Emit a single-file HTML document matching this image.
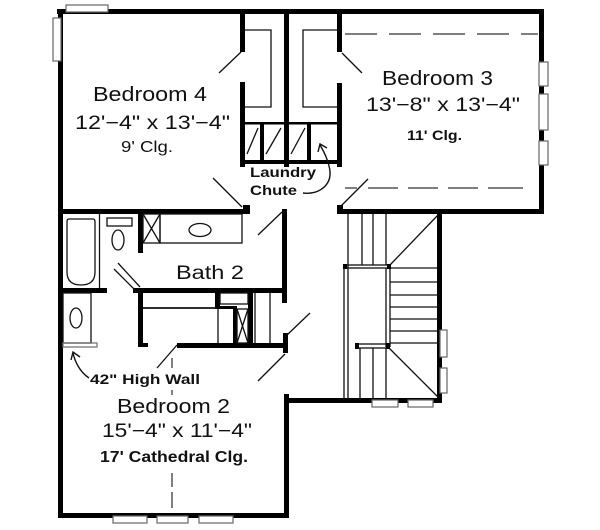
<!DOCTYPE html>
<html><head><meta charset="utf-8"><style>
html,body{margin:0;padding:0;background:#fff;}
svg{display:block;}
text{font-family:"Liberation Sans",Arial,sans-serif;fill:#111;}
</style></head><body>
<svg width="600" height="530" viewBox="0 0 600 530" xmlns="http://www.w3.org/2000/svg">
<rect width="600" height="530" fill="#fff"/>
<g fill="#000">
<!-- outer walls -->
<rect x="57" y="9" width="487" height="5"/>
<rect x="58" y="9" width="5" height="509"/>
<rect x="539" y="9" width="5" height="205"/>
<rect x="337" y="209" width="207" height="5"/>
<rect x="437" y="209" width="5" height="194"/>
<rect x="284" y="398" width="158" height="5"/>
<rect x="284" y="394" width="5" height="124"/>
<rect x="58" y="513" width="231" height="5"/>
<!-- bedroom 4 bottom -->
<rect x="58" y="209" width="192" height="5"/>
<rect x="243" y="205" width="7" height="9"/>
<!-- closet walls -->
<rect x="240" y="12" width="5" height="40"/>
<rect x="240" y="82" width="5" height="85"/>
<rect x="284" y="12" width="5" height="155"/>
<rect x="337" y="12" width="5" height="40"/>
<rect x="337" y="83" width="5" height="84"/>
<rect x="245" y="122" width="92" height="2.5"/>
<rect x="241" y="160" width="101" height="4"/>
<rect x="260" y="122" width="4" height="40"/>
<rect x="307" y="122" width="4" height="40"/>
<!-- bath walls -->
<rect x="58" y="288" width="49" height="5"/>
<rect x="138" y="214" width="5" height="39"/>
<rect x="133" y="288" width="154" height="5"/>
<rect x="282" y="209" width="5" height="94"/>
<rect x="138" y="292" width="5" height="55"/>
<rect x="138" y="343" width="10" height="4"/>
<rect x="177" y="343" width="111" height="5"/>
<rect x="283" y="333" width="5" height="20"/>
<rect x="215" y="293" width="5" height="15"/>
<rect x="215" y="306" width="22" height="3"/>
<rect x="233" y="307" width="4" height="37"/>
<rect x="248" y="293" width="5" height="51"/>
<rect x="337" y="205" width="6" height="9"/>
</g>
<g fill="none" stroke="#111" stroke-width="1.3">
<!-- closet shelves -->
<polyline points="245,30 271,30 271,107 245,107"/>
<polyline points="337,30 303,30 303,107 337,107"/>
<!-- laundry diagonals -->
<line x1="247" y1="154" x2="258" y2="128"/>
<line x1="266" y1="154" x2="281" y2="128"/>
<line x1="291" y1="154" x2="305" y2="128"/>
<!-- tub -->
<line x1="99.5" y1="214" x2="99.5" y2="288"/>
<path d="M69,219 H93 Q95,219 95,222 V272 Q95,285 81,285 Q67,285 67,272 V222 Q67,219 69,219 Z"/>
<!-- toilet -->
<rect x="107" y="218" width="25" height="8"/>
<ellipse cx="118" cy="240" rx="6" ry="10"/>
<!-- linen X -->
<rect x="143" y="214" width="17" height="29"/>
<line x1="143" y1="214" x2="160" y2="243"/><line x1="160" y1="214" x2="143" y2="243"/>
<!-- vanity -->
<rect x="160" y="214" width="82" height="29"/>
<ellipse cx="200" cy="230" rx="11" ry="6.5"/>
<!-- bath door -->
<line x1="114" y1="269" x2="137" y2="292"/>
<line x1="118" y1="263" x2="140" y2="287"/>
<!-- lower left closet -->
<rect x="63" y="293" width="28" height="50"/>
<ellipse cx="76" cy="318" rx="6" ry="10"/>
<rect x="63" y="343" width="34" height="4" stroke="#777"/>
<!-- closet below bath -->
<line x1="143" y1="308" x2="216" y2="308" stroke-width="1.8"/>
<line x1="218" y1="309" x2="218" y2="343"/>
<rect x="220" y="293" width="28" height="11"/>
<rect x="237" y="309" width="11" height="34"/>
<line x1="237" y1="309" x2="248" y2="343"/><line x1="248" y1="309" x2="237" y2="343"/>
<line x1="255" y1="293" x2="255" y2="343"/>
<line x1="270" y1="293" x2="270" y2="343"/>
<!-- door swings -->
<line x1="241" y1="52" x2="219" y2="73"/>
<line x1="342" y1="53" x2="362" y2="73"/>
<line x1="213" y1="178" x2="242" y2="207"/>
<line x1="340" y1="207" x2="368" y2="179"/>
<line x1="282" y1="212" x2="258" y2="235"/>
<line x1="287" y1="335" x2="310" y2="313"/>
<line x1="285" y1="354" x2="258" y2="381"/>
<line x1="177" y1="345" x2="157" y2="368"/>
<!-- stair -->
<line x1="348" y1="214" x2="348" y2="400"/>
<line x1="344" y1="265" x2="344" y2="400"/>
<line x1="362" y1="214" x2="362" y2="265"/>
<line x1="373" y1="214" x2="373" y2="265"/>
<line x1="386" y1="214" x2="386" y2="265"/>
<rect x="344" y="265" width="46" height="3"/>
<line x1="390" y1="268" x2="437" y2="268"/>
<line x1="390" y1="282" x2="437" y2="282"/>
<line x1="390" y1="295" x2="437" y2="295"/>
<line x1="390" y1="307" x2="437" y2="307"/>
<line x1="390" y1="319" x2="437" y2="319"/>
<line x1="390" y1="331" x2="437" y2="331"/>
<line x1="390" y1="343" x2="437" y2="343"/>
<line x1="386" y1="268" x2="386" y2="347"/>
<line x1="390" y1="268" x2="390" y2="347"/>
<line x1="390" y1="265" x2="438" y2="215"/>
<rect x="356" y="344" width="33" height="4"/>
<line x1="360" y1="348" x2="360" y2="400"/>
<line x1="373" y1="348" x2="373" y2="400"/>
<line x1="386" y1="348" x2="386" y2="400"/>
<line x1="389" y1="348" x2="438" y2="397"/>
</g>
<g fill="#000">
<rect x="343" y="264" width="4" height="5"/><rect x="387" y="264" width="4" height="5"/>
<rect x="355" y="343" width="4" height="6"/><rect x="386" y="343" width="4" height="6"/>
</g>
<!-- dashed lines -->
<g stroke="#555" stroke-width="1.5" fill="none">
<line x1="345" y1="34" x2="538" y2="34" stroke-dasharray="32,12"/>
<line x1="345" y1="188" x2="527" y2="188" stroke-dasharray="12,11,30,10,30,10,30,10,35"/>
<line x1="172" y1="358" x2="172" y2="368"/>
<line x1="172" y1="390" x2="172" y2="395"/>
<line x1="172" y1="473" x2="172" y2="487"/>
<line x1="172" y1="492" x2="172" y2="508"/>
</g>
<!-- windows -->
<g fill="#fff" stroke="#666" stroke-width="1.2">
<rect x="66" y="5" width="42" height="7"/>
<rect x="53" y="18" width="8" height="43"/>
<rect x="539" y="62" width="9" height="24"/>
<rect x="539" y="94" width="9" height="36"/>
<rect x="539" y="141" width="9" height="24"/>
<rect x="440" y="330" width="7" height="27"/>
<rect x="440" y="368" width="7" height="25"/>
<rect x="372" y="400" width="26" height="7"/>
<rect x="408" y="400" width="25" height="7"/>
<rect x="113" y="516" width="34" height="7"/>
<rect x="157" y="516" width="31" height="7"/>
<rect x="199" y="516" width="34" height="7"/>
</g>
<!-- arrows -->
<g fill="none" stroke="#111" stroke-width="1.4">
<path d="M303,193 C320,195 334,184 329,166 C327,157 323,150 320,145"/>
<polyline points="318,152 320,144 327,148"/>
<path d="M89,378 C80,372 75,362 73,353"/>
<polyline points="71,360 73,352 80,357"/>
</g>
<!-- labels -->
<text x="93" y="101" font-size="20" textLength="114" lengthAdjust="spacingAndGlyphs">Bedroom 4</text>
<text x="75" y="129" font-size="19" textLength="155" lengthAdjust="spacingAndGlyphs">12'−4" x 13'−4"</text>
<text x="121" y="152" font-size="16" textLength="52" lengthAdjust="spacingAndGlyphs">9' Clg.</text>
<text x="382" y="85" font-size="20" textLength="111" lengthAdjust="spacingAndGlyphs">Bedroom 3</text>
<text x="366" y="111" font-size="19" textLength="154" lengthAdjust="spacingAndGlyphs">13'−8" x 13'−4"</text>
<text x="407" y="140" font-size="14" font-weight="bold" textLength="55" lengthAdjust="spacingAndGlyphs">11' Clg.</text>
<text x="250" y="177" font-size="14" font-weight="bold" textLength="66" lengthAdjust="spacingAndGlyphs">Laundry</text>
<text x="250" y="195" font-size="14" font-weight="bold" textLength="47" lengthAdjust="spacingAndGlyphs">Chute</text>
<text x="176" y="279" font-size="19" textLength="68" lengthAdjust="spacingAndGlyphs">Bath 2</text>
<text x="90" y="384" font-size="14" font-weight="bold" textLength="110" lengthAdjust="spacingAndGlyphs">42" High Wall</text>
<text x="117" y="413" font-size="20" textLength="113" lengthAdjust="spacingAndGlyphs">Bedroom 2</text>
<text x="102" y="437" font-size="19" textLength="150" lengthAdjust="spacingAndGlyphs">15'−4" x 11'−4"</text>
<text x="100" y="462" font-size="16" font-weight="bold" textLength="148" lengthAdjust="spacingAndGlyphs">17' Cathedral Clg.</text>
</svg>
</body></html>
